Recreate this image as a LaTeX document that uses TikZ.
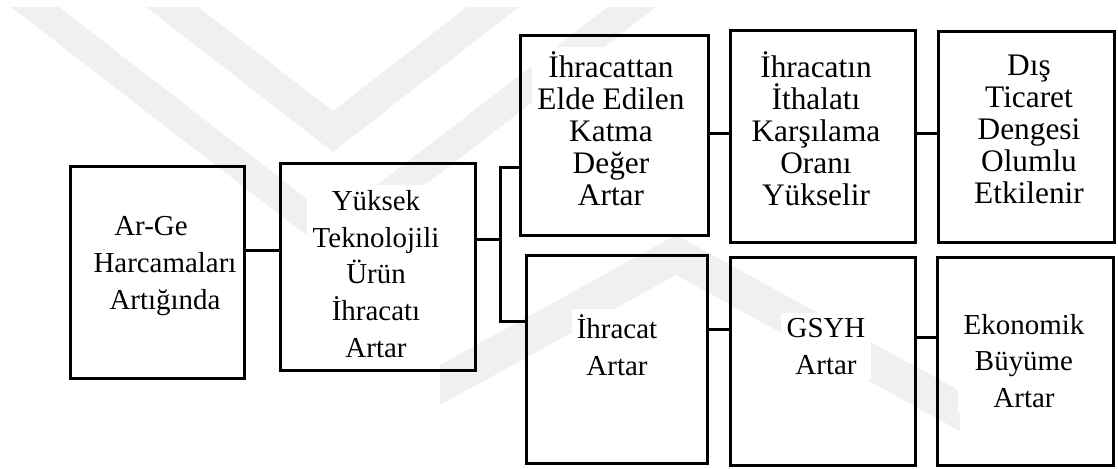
\documentclass[tikz,border=0pt]{standalone}
\usepackage{fontspec}
\setmainfont{Liberation Serif}
\begin{document}
\begin{tikzpicture}[x=0.75pt,y=-0.75pt,line width=2.25pt,
  box/.style={draw,rectangle,inner sep=0pt,line join=miter},
  lbl/.style={align=center,inner sep=4pt,fill=white},
  big/.style={font=\fontsize{23.5}{24}\selectfont},
  small/.style={font=\fontsize{21.7}{27.5}\selectfont},
  conn/.style={draw,line width=2.25pt,line join=miter},
  wm/.style={fill=black!6,draw=none}]
\useasboundingbox (0,0) rectangle (1118,468);
% watermark
\begin{scope}
\clip (0,7) rectangle (1118,468);
\fill[wm] (146,7) -- (198,7) -- (333,111) -- (467,7) -- (519,7) -- (333,152) -- cycle;
\fill[wm] (11,7) -- (59,7) -- (333,219) -- (608,7) -- (656,7) -- (333,256) -- cycle;
\fill[wm] (440,365) -- (676,235) -- (960,391) -- (960,431) -- (676,275) -- (440,405) -- cycle;
\end{scope}
% boxes
\node[box,minimum width=130.5pt,minimum height=159pt] (A) at (157,272) {};
\node[box,minimum width=146.25pt,minimum height=155.25pt] (B) at (377.5,266.5) {};
\node[box,minimum width=141pt,minimum height=150pt] (C) at (614,135) {};
\node[box,minimum width=138.75pt,minimum height=159pt] (E) at (822.5,136) {};
\node[box,minimum width=132pt,minimum height=158.25pt] (F) at (1026,136.5) {};
\node[box,minimum width=135.75pt,minimum height=156pt] (D) at (616.5,359) {};
\node[box,minimum width=138.75pt,minimum height=156pt] (G) at (822.5,361) {};
\node[box,minimum width=132pt,minimum height=156pt] (H) at (1025,361) {};
% texts
\node[lbl,small] (tA) at (165,266) {Ar-Ge\hspace*{21pt}\\Harcamaları\\Artığında};
\node[lbl,small] (tB) at (376,274) {Yüksek\\Teknolojili\\Ürün\\İhracatı\\Artar};
\node[lbl,big] (tC) at (611,129) {İhracattan\\Elde Edilen\\Katma\\Değer\\Artar};
\node[lbl,big] (tE) at (816,129) {İhracatın\\İthalatı\\Karşılama\\Oranı\\Yükselir};
\node[lbl,big] (tF) at (1029,129) {Dış\\Ticaret\\Dengesi\\Olumlu\\Etkilenir};
\node[lbl,small] (tD) at (617,345) {İhracat\\Artar};
\node[lbl,small] (tG) at (826,346.5) {GSYH\\Artar};
\node[lbl,small] (tH) at (1024,361) {Ekonomik\\Büyüme\\Artar};
% connector levels
\coordinate (yAB) at (0,250);
\coordinate (yB) at (0,239);
\coordinate (yC) at (0,167);
\coordinate (yD) at (0,321);
\coordinate (bx) at (500,0);
\coordinate (yCE) at (0,133);
\coordinate (yDG) at (0,329);
\coordinate (yGH) at (0,337);
% connectors
\draw[conn] (A.east |- yAB) -- (B.west |- yAB);
\draw[conn] (B.east |- yB) -- (bx |- yB);
\draw[conn] (C.west |- yC) -| (bx |- yD) -- (D.west |- yD);
\draw[conn] (C.east |- yCE) -- (E.west |- yCE);
\draw[conn] (E.east |- yCE) -- (F.west |- yCE);
\draw[conn] (D.east |- yDG) -- (G.west |- yDG);
\draw[conn] (G.east |- yGH) -- (H.west |- yGH);
\end{tikzpicture}
\end{document}
